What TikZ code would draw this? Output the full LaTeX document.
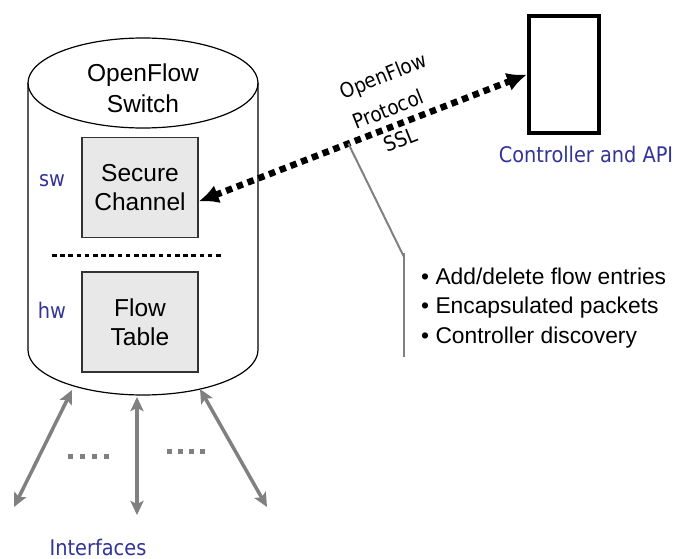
\documentclass[tikz,border=0pt]{standalone}
\usepackage{fontspec}
\setmainfont{Liberation Sans}
\newfontfamily\tah{DejaVu Sans Condensed}
\usetikzlibrary{arrows.meta,calc}
\definecolor{lblblue}{RGB}{51,51,153}
\definecolor{boxgray}{RGB}{232,232,232}
\definecolor{ifgray}{RGB}{128,128,128}
\tikzset{
  compbox/.style={draw=black!80, line width=1.2pt, fill=boxgray, minimum width=116pt, minimum height=100pt, inner sep=0pt, align=center, font=\fontsize{24.5}{29}\selectfont},
  bluelbl/.style={text=lblblue, font=\tah\fontsize{21.5}{25}\selectfont, inner sep=0pt},
  protolbl/.style={font=\tah\fontsize{20.5}{33}\selectfont, rotate=22, inner sep=0pt, align=center},
  bullet/.style={anchor=base west, inner sep=0pt, font=\fontsize{22.8}{27}\selectfont},
  ofarrow/.style={line width=6.5pt, dash pattern=on 6.5pt off 5pt, {Latex[length=20pt,width=19pt]}-{Latex[length=20pt,width=19pt]}},
  ifarrow/.style={draw=ifgray, line width=3.5pt, {Stealth[length=14pt,width=13pt,inset=3pt]}-{Stealth[length=14pt,width=13pt,inset=3pt]}},
  ifdots/.style={draw=ifgray, line width=5pt},
}
\begin{document}
\begin{tikzpicture}[x=1pt,y=-1pt]
\useasboundingbox (0,0) rectangle (680,559);
% cylinder
\draw[line width=1.2pt] (143,83) ellipse [x radius=115, y radius=45];
\draw[line width=1.2pt] (28,83) -- (28,350) arc[start angle=180, end angle=0, x radius=115, y radius=45] -- (258,83);
\node[font=\fontsize{24.5}{31}\selectfont, align=center, inner sep=0pt] (sw) at (143,88) {OpenFlow\\Switch};
\node[compbox] (sc) at (140,187.5) {Secure\\Channel};
\node[compbox] (ft) at (140,322) {Flow\\Table};
\draw[line width=3pt, dash pattern=on 4.5pt off 3.7pt] (52,255) -- (224,255);
\node[bluelbl] (swl) at (52,181) {sw};
\node[bluelbl] (hwl) at (52,310) {hw};
% controller
\node[draw, line width=4pt, minimum width=70pt, minimum height=117pt, inner sep=0pt] (ctrl) at (564,74.5) {};
\node[bluelbl] (ctrll) at (586,154) {Controller and API};
% protocol arrow
\coordinate (sce) at ($(sc.east)+(0,14)$);
\draw[ofarrow] (sce) -- (ctrl.west);
\node[protolbl] (proto) at (388,109) {\hspace*{16pt}OpenFlow\\Protocol\\SSL};
% pointer line
\coordinate (pp) at ($(sce)!0.456!(ctrl.west)$);
\coordinate (k) at (404,257);
\coordinate (vt) at (404,253);
\coordinate (vb) at (404,357);
\draw[ifgray, line width=2pt] (pp) -- (k);
\draw[ifgray, line width=2pt] (vt) -- (vb);
\node[bullet] (b1) at (421,284) {• Add/delete flow entries};
\node[bullet] (b2) at (421,313.5) {• Encapsulated packets};
\node[bullet] (b3) at (421,343) {• Controller discovery};
% interfaces
\coordinate (i1a) at (72,390); \coordinate (i1b) at (14,507);
\coordinate (i2a) at (137,397); \coordinate (i2b) at (137,515);
\coordinate (i3a) at (200,389); \coordinate (i3b) at (267,507);
\draw[ifarrow] (i1a) -- (i1b);
\draw[ifarrow] (i2a) -- (i2b);
\draw[ifarrow] (i3a) -- (i3b);
\draw[ifdots, dash pattern=on 5pt off 7pt] (68,456) -- (109,456);
\draw[ifdots, dash pattern=on 5pt off 6pt] (167,451) -- (205,451);
\node[bluelbl] (ifl) at (98,547) {Interfaces};
\end{tikzpicture}
\end{document}
